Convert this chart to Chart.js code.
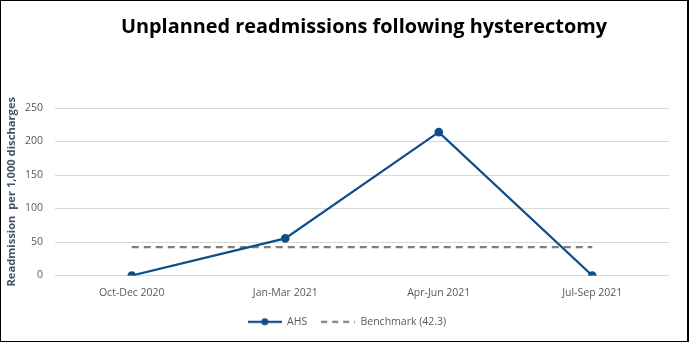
<!DOCTYPE html>
<html>
<head>
<meta charset="utf-8">
<script src="https://cdn.jsdelivr.net/npm/chart.js@4/dist/chart.umd.min.js"></script>
<style>
  html, body { margin: 0; padding: 0; background: #fff; }
  #frame { position: relative; width: 689px; height: 342px; box-sizing: border-box; border: 1px solid #000; border-right-width: 2px; }
  canvas { display: block; }
</style>
</head>
<body>
<div id="frame"><canvas id="c" width="686" height="340"></canvas></div>
<script>
// Quarterly periods and rates per 1,000 discharges
const categories = ['Oct-Dec 2020', 'Jan-Mar 2021', 'Apr-Jun 2021', 'Jul-Sep 2021'];
const ahsValues = [0, 55.4, 214, 0];
const benchmarkValue = 42.3;
const benchmarkValues = categories.map(() => benchmarkValue);
const yTicks = [0, 50, 100, 150, 200, 250];
const chartTitle = 'Unplanned readmissions following hysterectomy';

const textGrey = '#595959';
const ahsColor = '#0E4D8C';
const benchColor = '#7F7F7F';
const fontFamily = '"Open Sans", "Liberation Sans", sans-serif';

// Small legend glyphs: a solid line with a dot, and a dashed line
function legendGlyph(withDot, dash, color) {
  const g = document.createElement('canvas');
  g.width = 34; g.height = 10;
  const ctx = g.getContext('2d');
  ctx.strokeStyle = color;
  ctx.lineWidth = 2.25;
  ctx.setLineDash(dash);
  ctx.beginPath();
  ctx.moveTo(0, 5); ctx.lineTo(34, 5);
  ctx.stroke();
  if (withDot) {
    ctx.fillStyle = color;
    ctx.beginPath();
    ctx.arc(17, 5, 3.5, 0, Math.PI * 2);
    ctx.fill();
  }
  return g;
}
const ahsGlyph = legendGlyph(true, [], ahsColor);
const benchGlyph = legendGlyph(false, [6, 5], benchColor);

// Title centred over the plot area
const plotTitle = {
  id: 'plotTitle',
  afterLayout(chart) {
    // centre the legend under the plot area rather than the whole canvas
    const lg = chart.legend;
    if (lg) {
      const shift = (chart.chartArea.left + chart.chartArea.right) / 2 - (lg.left + lg.right) / 2 - 15;
      lg.left += shift;
      lg.right += shift;
    }
  },
  afterDraw(chart) {
    const { ctx, chartArea } = chart;
    ctx.save();
    ctx.font = 'bold 19.9px ' + fontFamily;
    ctx.fillStyle = '#000';
    ctx.textAlign = 'center';
    ctx.textBaseline = 'middle';
    ctx.fillText(chartTitle, (chartArea.left + chartArea.right) / 2 + 2, 26);
    ctx.restore();
  }
};

new Chart(document.getElementById('c'), {
  type: 'line',
  data: {
    labels: categories,
    datasets: [
      {
        label: 'AHS',
        data: ahsValues,
        borderColor: ahsColor,
        backgroundColor: ahsColor,
        borderWidth: 2.25,
        pointRadius: 3.2,
        pointHoverRadius: 3.2,
        pointBackgroundColor: ahsColor,
        pointBorderColor: ahsColor,
        pointStyle: 'circle',
        tension: 0,
        order: 1
      },
      {
        label: 'Benchmark (' + benchmarkValue + ')',
        data: benchmarkValues,
        borderColor: benchColor,
        backgroundColor: benchColor,
        borderWidth: 2.25,
        borderDash: [7, 5],
        pointRadius: 0,
        pointHoverRadius: 0,
        tension: 0,
        order: 2
      }
    ]
  },
  plugins: [plotTitle],
  options: {
    responsive: false,
    animation: false,
    layout: { padding: { left: 4, right: 18, top: 107, bottom: 4 } },
    plugins: {
      title: { display: false },
      legend: {
        position: 'bottom',
        labels: {
          color: textGrey,
          font: { family: fontFamily, size: 10.5 },
          usePointStyle: true,
          pointStyleWidth: 34,
          boxHeight: 10,
          padding: 14,
          generateLabels(chart) {
            return chart.data.datasets.map((ds, i) => ({
              text: ds.label,
              pointStyle: i === 0 ? ahsGlyph : benchGlyph,
              fillStyle: ds.borderColor,
              strokeStyle: ds.borderColor,
              lineWidth: 0,
              hidden: false,
              datasetIndex: i,
              fontColor: textGrey
            }));
          }
        }
      },
      tooltip: { enabled: false }
    },
    scales: {
      x: {
        offset: true,
        grid: { display: false },
        border: { display: false },
        ticks: { color: textGrey, font: { family: fontFamily, size: 10.5 }, padding: 3, maxRotation: 0 },
        afterFit(scale) { scale.height = 27; }
      },
      y: {
        min: 0,
        max: 250,
        afterBuildTicks(scale) { scale.ticks = yTicks.map(v => ({ value: v })); },
        grid: { color: '#D9D9D9', lineWidth: 1, drawTicks: false },
        border: { display: false },
        ticks: { color: textGrey, font: { family: fontFamily, size: 10.5 }, padding: 12 },
        title: {
          display: true,
          text: 'Readmission  per 1,000 discharges',
          color: '#44546A',
          font: { family: fontFamily, size: 11.2, weight: 'bold' },
          padding: { top: 0, bottom: 2 }
        },
        afterFit(scale) { scale.width = 50; }
      }
    }
  }
});
</script>
</body>
</html>
